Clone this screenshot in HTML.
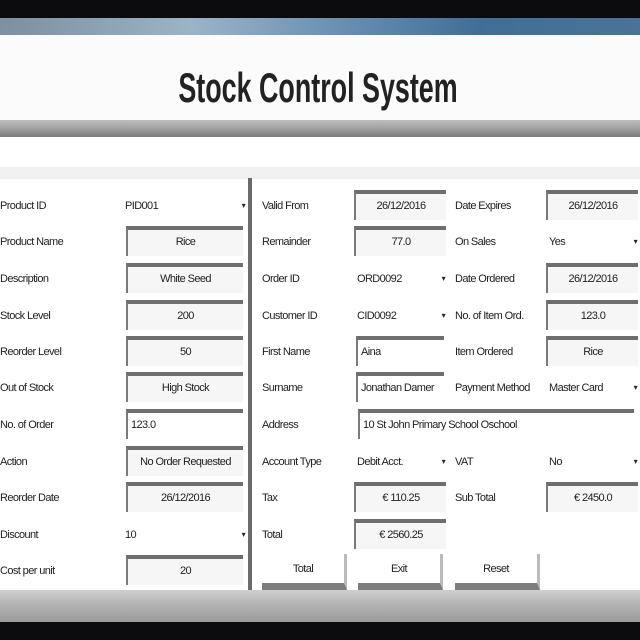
<!DOCTYPE html>
<html><head><style>
body{margin:0;width:640px;height:640px;overflow:hidden;background:#fff;position:relative;font-family:"Liberation Sans",sans-serif;}
div{position:absolute;box-sizing:border-box;white-space:nowrap;}
.l,.c,.f,.b{font-size:11px;letter-spacing:-0.6px;color:#222;}
.l{height:16px;line-height:16px;}
.f{height:30px;border-top:4px solid #6e6e6e;border-left:2px solid #7a7a7a;background:#f6f6f6;text-align:center;line-height:24px;overflow:hidden;}
.fl{text-align:left;padding-left:3px;background:#fff;}
.c{height:16px;line-height:16px;}
.c span{position:absolute;right:0;top:0;font-size:8px;}
.b{height:36px;background:#fff;border-bottom:7px solid #7d7d7d;border-right:3px solid #bbb;text-align:center;line-height:30px;}
</style></head><body>
<div style="left:0;top:0;width:640px;height:18px;background:#0c0c0e"></div>
<div style="left:0;top:18px;width:640px;height:17px;background:linear-gradient(90deg,#7d8fa0,#9ab4c8 30%,#6f94b5 50%,#3f6f97 75%,#4a7396)"></div>
<div style="left:0;top:35px;width:640px;height:85px;background:#fbfbfb"></div>
<div style="left:0;top:62px;width:636px;text-align:center;font-size:42px;font-weight:bold;color:#222;line-height:52px;transform:scaleX(0.64);">Stock Control System</div>
<div style="left:0;top:120px;width:640px;height:17px;background:linear-gradient(#bdbdbd,#a0a0a0 50%,#7a7a7a)"></div>
<div style="left:0;top:167px;width:640px;height:12px;background:#f0f0f0"></div>
<div style="left:248px;top:178px;width:4px;height:415px;background:#6a6a6a"></div>
<div style="left:0;top:590px;width:640px;height:32px;background:linear-gradient(#cfcfcf,#b5b5b5 40%,#9a9a9a)"></div>
<div style="left:0;top:622px;width:640px;height:18px;background:#0c0c0e"></div>

<div class="l" style="left:0;top:198px">Product ID</div>
<div class="c" style="left:125px;top:198px;width:120px">PID001<span>▾</span></div>
<div class="l" style="left:0;top:234px">Product Name</div>
<div class="f" style="left:126px;top:226px;width:117px">Rice</div>
<div class="l" style="left:0;top:271px">Description</div>
<div class="f" style="left:126px;top:263px;width:117px">White Seed</div>
<div class="l" style="left:0;top:308px">Stock Level</div>
<div class="f" style="left:126px;top:300px;width:117px">200</div>
<div class="l" style="left:0;top:344px">Reorder Level</div>
<div class="f" style="left:126px;top:336px;width:117px">50</div>
<div class="l" style="left:0;top:380px">Out of Stock</div>
<div class="f" style="left:126px;top:372px;width:117px">High Stock</div>
<div class="l" style="left:0;top:417px">No. of Order</div>
<div class="f fl" style="left:126px;top:409px;width:117px">123.0</div>
<div class="l" style="left:0;top:454px">Action</div>
<div class="f" style="left:126px;top:446px;width:117px">No Order Requested</div>
<div class="l" style="left:0;top:490px">Reorder Date</div>
<div class="f" style="left:126px;top:482px;width:117px">26/12/2016</div>
<div class="l" style="left:0;top:527px">Discount</div>
<div class="c" style="left:125px;top:527px;width:120px">10<span>▾</span></div>
<div class="l" style="left:0;top:563px">Cost per unit</div>
<div class="f" style="left:126px;top:555px;width:117px">20</div>

<div class="l" style="left:262px;top:198px">Valid From</div>
<div class="f" style="left:354px;top:190px;width:92px">26/12/2016</div>
<div class="l" style="left:455px;top:198px">Date Expires</div>
<div class="f" style="left:546px;top:190px;width:92px">26/12/2016</div>
<div class="l" style="left:262px;top:234px">Remainder</div>
<div class="f" style="left:354px;top:226px;width:92px">77.0</div>
<div class="l" style="left:455px;top:234px">On Sales</div>
<div class="c" style="left:549px;top:234px;width:88px">Yes<span>▾</span></div>
<div class="l" style="left:262px;top:271px">Order ID</div>
<div class="c" style="left:357px;top:271px;width:88px">ORD0092<span>▾</span></div>
<div class="l" style="left:455px;top:271px">Date Ordered</div>
<div class="f" style="left:546px;top:263px;width:92px">26/12/2016</div>
<div class="l" style="left:262px;top:308px">Customer ID</div>
<div class="c" style="left:357px;top:308px;width:88px">CID0092<span>▾</span></div>
<div class="l" style="left:455px;top:308px">No. of Item Ord.</div>
<div class="f" style="left:546px;top:300px;width:92px">123.0</div>
<div class="l" style="left:262px;top:344px">First Name</div>
<div class="f fl" style="left:356px;top:336px;width:88px">Aina</div>
<div class="l" style="left:455px;top:344px">Item Ordered</div>
<div class="f" style="left:546px;top:336px;width:92px">Rice</div>
<div class="l" style="left:262px;top:380px">Surname</div>
<div class="f fl" style="left:356px;top:372px;width:88px">Jonathan Damer</div>
<div class="l" style="left:455px;top:380px">Payment Method</div>
<div class="c" style="left:549px;top:380px;width:88px">Master Card<span>▾</span></div>
<div class="l" style="left:262px;top:417px">Address</div>
<div class="f fl" style="left:358px;top:409px;width:276px">10 St John Primary School Oschool</div>
<div class="l" style="left:262px;top:454px">Account Type</div>
<div class="c" style="left:357px;top:454px;width:88px">Debit Acct.<span>▾</span></div>
<div class="l" style="left:455px;top:454px">VAT</div>
<div class="c" style="left:549px;top:454px;width:88px">No<span>▾</span></div>
<div class="l" style="left:262px;top:490px">Tax</div>
<div class="f" style="left:354px;top:482px;width:92px">€ 110.25</div>
<div class="l" style="left:455px;top:490px">Sub Total</div>
<div class="f" style="left:546px;top:482px;width:92px">€ 2450.0</div>
<div class="l" style="left:262px;top:527px">Total</div>
<div class="f" style="left:354px;top:519px;width:92px">€ 2560.25</div>

<div class="b" style="left:262px;top:554px;width:85px">Total</div>
<div class="b" style="left:358px;top:554px;width:85px">Exit</div>
<div class="b" style="left:455px;top:554px;width:85px">Reset</div>
</body></html>
